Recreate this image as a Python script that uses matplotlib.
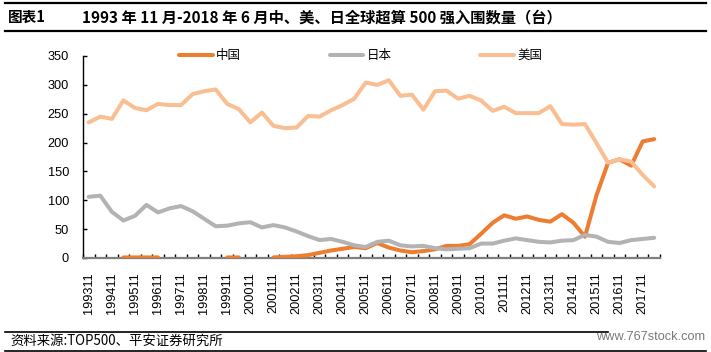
import numpy as np
import matplotlib
matplotlib.use("Agg")
import matplotlib.pyplot as plt
from matplotlib.lines import Line2D

nan = np.nan
# 50 semiannual TOP500 lists: 1993-11 ... 2018-06
china = [nan, nan, nan, 1, 1, 1, 1, nan, nan, nan, nan, nan, 1, 1, nan, nan,
         1, 2, 3, 5, 9, 13, 16, 19, 17, 26, 18, 13, 10, 12, 15, 21, 21, 24,
         42, 61, 74, 68, 72, 66, 63, 76, 61, 37, 109, 165, 171, 160, 202, 206]
japan = [106, 108, 80, 65, 73, 92, 79, 86, 90, 81, 68, 55, 56, 60, 62, 53,
         57, 53, 46, 38, 31, 33, 28, 22, 19, 28, 30, 22, 20, 21, 17, 15, 16, 17,
         25, 25, 30, 34, 31, 28, 27, 30, 31, 40, 37, 28, 26, 31, 33, 35]
usa = [235, 245, 241, 273, 260, 256, 267, 265, 265, 284, 289, 292, 267, 258,
       235, 252, 229, 225, 226, 246, 245, 256, 265, 276, 304, 300, 308, 281,
       283, 257, 289, 290, 276, 281, 273, 255, 262, 251, 251, 251, 263, 232,
       231, 232, 199, 165, 171, 167, 144, 124]
tick_labels = ["199311", "199411", "199511", "199611", "199711", "199811",
               "199911", "200011", "200111", "200211", "200311", "200411",
               "200511", "200611", "200711", "200811", "200911", "201011",
               "201111", "201211", "201311", "201411", "201511", "201611",
               "201711"]
series_names = ["中国", "日本", "美国"]
y_ticks = [0, 50, 100, 150, 200, 250, 300, 350]

FONT = ["Liberation Sans", "Noto Sans CJK SC", "DejaVu Sans"]
plt.rcParams["font.family"] = FONT

W, H = 711, 352
fig = plt.figure(figsize=(W / 100, H / 100), dpi=100)

left, right, top, bottom = 83, 660, 56, 258
ax = fig.add_axes([left / W, 1 - bottom / H, (right - left) / W, (bottom - top) / H])

n = len(usa)
x = np.arange(n)
c_china = "#ED7D31"
c_japan = "#B3B3B3"
c_usa = "#F9BF93"
lw = 2.9
ax.plot(x, china, color=c_china, lw=lw, solid_joinstyle="round", solid_capstyle="round", zorder=3)
ax.plot(x, japan, color=c_japan, lw=lw, solid_joinstyle="round", solid_capstyle="round", zorder=4)
ax.plot(x, usa, color=c_usa, lw=lw, solid_joinstyle="round", solid_capstyle="round", zorder=5)

ax.set_xlim(-0.5, n - 0.5)
ax.set_ylim(0, 350)
ax.set_yticks(y_ticks)
ax.set_yticklabels([str(v) for v in y_ticks], fontsize=9.2)
ax.tick_params(axis="y", direction="in", length=3, width=1, pad=10, colors="black")

ax.set_xticks(np.arange(0, n, 2))
ax.set_xticklabels(tick_labels, rotation=90, fontsize=9.2)
ax.tick_params(axis="x", which="major", length=0, pad=10)
ax.set_xticks(np.arange(-0.5, n, 1), minor=True)
ax.tick_params(axis="x", which="minor", direction="in", length=3.2, width=1, color="black")

for s in ["top", "right"]:
    ax.spines[s].set_visible(False)
ax.spines["left"].set_color("black")
ax.spines["left"].set_linewidth(1)
ax.spines["bottom"].set_color("#7f7f7f")
ax.spines["bottom"].set_linewidth(1.6)

handles = [Line2D([], [], color=c, lw=lw, solid_capstyle="round") for c in (c_china, c_japan, c_usa)]
leg = ax.legend(handles, series_names, loc="upper left", bbox_to_anchor=(179 / W, 1 - 50 / H),
                bbox_transform=fig.transFigure, ncol=3, frameon=False, fontsize=9,
                handlelength=2.7, handletextpad=0.25, columnspacing=7.1, borderpad=0, borderaxespad=0)

# Title band
fig.add_artist(Line2D([5 / W, 706 / W], [1 - 3 / H, 1 - 3 / H], color="black", lw=1.6, transform=fig.transFigure))
fig.add_artist(Line2D([5 / W, 706 / W], [1 - 31 / H, 1 - 31 / H], color="black", lw=1.6, transform=fig.transFigure))
fig.text(8 / W, 1 - 17 / H, "图表1", fontsize=10.5, fontweight="bold", va="center", ha="left",
         family=["Noto Sans CJK SC", "DejaVu Sans"])
fig.text(82 / W, 1 - 17 / H, "1993 年 11 月-2018 年 6 月中、美、日全球超算 500 强入围数量（台）",
         fontsize=11, fontweight="bold", va="center", ha="left", family=["Noto Sans CJK SC", "DejaVu Sans"])

# Footer
fig.add_artist(Line2D([5 / W, 608 / W], [1 - 332 / H, 1 - 332 / H], color="black", lw=1.2, transform=fig.transFigure))
fig.add_artist(Line2D([5 / W, 706 / W], [1 - 350.5 / H, 1 - 350.5 / H], color="black", lw=1.2, transform=fig.transFigure))
fig.text(10 / W, 1 - 341 / H, "资料来源:TOP500、平安证券研究所", fontsize=9.6, style="italic",
         va="center", ha="left", family=["Noto Sans CJK SC", "DejaVu Sans"])
fig.text(705 / W, 1 - 337 / H, "www.767stock.com", fontsize=9.2, color="#7a7a7a",
         va="center", ha="right", family=["Liberation Sans", "DejaVu Sans"])

fig.savefig("out.png", dpi=100)
